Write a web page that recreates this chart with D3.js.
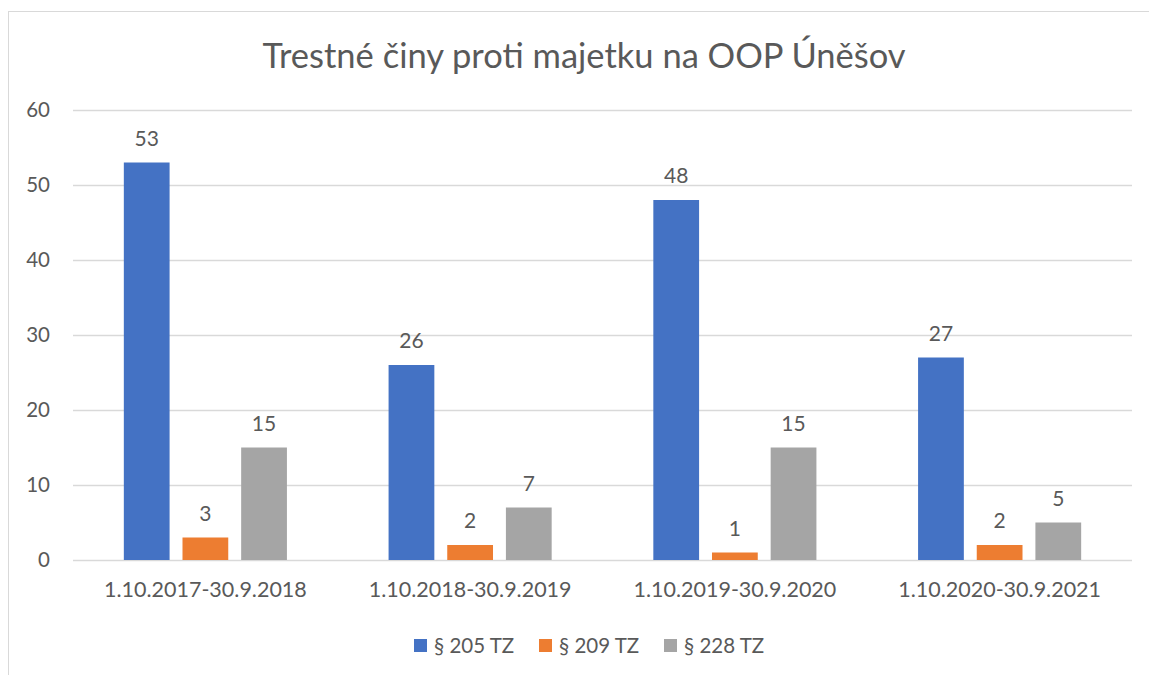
<!DOCTYPE html>
<html>
<head>
<meta charset="utf-8">
<script src="https://cdn.jsdelivr.net/npm/d3@7"></script>
<style>
  body { margin: 0; background: #fff; }
  text { font-family: Lato, "Open Sans", sans-serif; fill: #595959; }
</style>
</head>
<body>
<div id="chart"></div>
<script>
const categories = ["1.10.2017-30.9.2018", "1.10.2018-30.9.2019", "1.10.2019-30.9.2020", "1.10.2020-30.9.2021"]
const seriesNames = ["§ 205 TZ", "§ 209 TZ", "§ 228 TZ"]
const s205 = [53, 26, 48, 27]
const s209 = [3, 2, 1, 2]
const s228 = [15, 7, 15, 5]
const yTicks = [0, 10, 20, 30, 40, 50, 60]
const colors = ["#4472C4", "#ED7D31", "#A5A5A5"]

const svgWidth = 1149, svgHeight = 675
const margin = { top: 110, right: 17, bottom: 115, left: 73 }
const width = svgWidth - margin.left - margin.right
const height = svgHeight - margin.top - margin.bottom

const seriesValues = [s205, s209, s228]
const data = categories.map((c, i) => ({
    cat: c,
    vals: seriesNames.map((s, j) => ({ name: s, value: seriesValues[j][i], color: colors[j] }))
}))

const svg = d3.select("#chart")
    .append("svg")
    .attr("width", svgWidth)
    .attr("height", svgHeight)

// outer frame (right and bottom edges run off the picture)
svg.append("rect")
    .attr("x", 8.5).attr("y", 11.5)
    .attr("width", 1160).attr("height", 700)
    .attr("fill", "none")
    .attr("stroke", "#D9D9D9")

svg.append("text")
    .attr("x", 584)
    .attr("y", 68)
    .attr("text-anchor", "middle")
    .attr("font-size", 34.5)
    .text("Trestné činy proti majetku na OOP Úněšov")

const chartGroup = svg.append("g")
    .attr("transform", `translate(${margin.left}, ${margin.top})`)

const x0 = d3.scaleBand()
    .domain(categories)
    .range([0, width])

const groupW = 176
const x1 = d3.scaleBand()
    .domain(seriesNames)
    .range([(x0.bandwidth() - groupW) / 2, (x0.bandwidth() + groupW) / 2])
    .paddingInner(0.22)
    .paddingOuter(0.11)

const y = d3.scaleLinear()
    .domain([0, 60])
    .range([height, 0])

// gridlines
chartGroup.append("g")
    .call(d3.axisLeft(y).tickValues(yTicks).tickSize(-width).tickFormat(""))
    .call(g => g.select(".domain").remove())
    .call(g => g.selectAll("line").attr("stroke", "#D9D9D9").attr("stroke-width", 1.3))

// y labels
chartGroup.append("g")
    .call(d3.axisLeft(y).tickValues(yTicks).tickSize(0).tickPadding(23))
    .call(g => g.select(".domain").remove())
    .call(g => g.selectAll("text").attr("font-size", 20.5).attr("fill", "#595959"))

// x labels
chartGroup.append("g")
    .attr("transform", `translate(0, ${height})`)
    .call(d3.axisBottom(x0).tickSize(0).tickPadding(22))
    .call(g => g.select(".domain").remove())
    .call(g => g.selectAll("text").attr("font-size", 21.5).attr("fill", "#595959"))

const groups = chartGroup.selectAll(".grp")
    .data(data)
    .enter()
    .append("g")
    .attr("class", "grp")
    .attr("transform", d => `translate(${x0(d.cat)}, 0)`)

groups.selectAll("rect")
    .data(d => d.vals)
    .enter()
    .append("rect")
    .attr("x", d => x1(d.name))
    .attr("y", d => y(d.value))
    .attr("width", x1.bandwidth())
    .attr("height", d => height - y(d.value))
    .attr("fill", d => d.color)

groups.selectAll(".lbl")
    .data(d => d.vals)
    .enter()
    .append("text")
    .attr("class", "lbl")
    .attr("x", d => x1(d.name) + x1.bandwidth() / 2)
    .attr("y", d => y(d.value) - 17)
    .attr("text-anchor", "middle")
    .attr("font-size", 21)
    .text(d => d.value)

// legend
const legendX = [414, 539, 664]
const legend = svg.append("g")
seriesNames.forEach((s, i) => {
    legend.append("rect")
        .attr("x", legendX[i]).attr("y", 639)
        .attr("width", 13).attr("height", 13)
        .attr("fill", colors[i])
    legend.append("text")
        .attr("x", legendX[i] + 20).attr("y", 653)
        .attr("font-size", 20.5)
        .text(s)
})
</script>
</body>
</html>
